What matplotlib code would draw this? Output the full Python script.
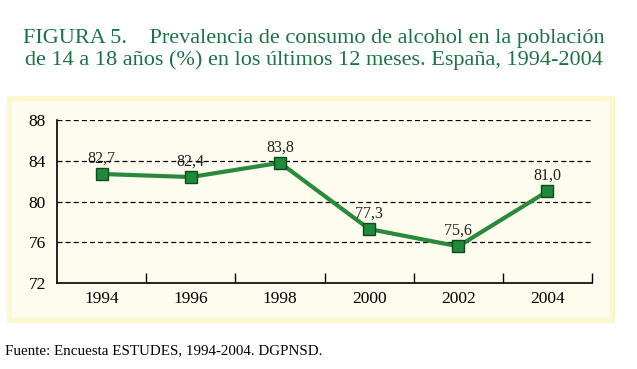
import matplotlib
matplotlib.use("Agg")
import matplotlib.pyplot as plt
from matplotlib.patches import Rectangle

years = ["1994", "1996", "1998", "2000", "2002", "2004"]
values = [82.7, 82.4, 83.8, 77.3, 75.6, 81.0]
labels = ["82,7", "82,4", "83,8", "77,3", "75,6", "81,0"]
yticks = [72, 76, 80, 84, 88]

W, H = 637, 369
fig = plt.figure(figsize=(W/100, H/100), dpi=100)
fig.patch.set_facecolor("white")
serif = ["Liberation Serif", "DejaVu Serif"]

# panel background
fig.patches.append(Rectangle((7/W, 1-323/H), (615-7)/W, (323-96)/H,
                             transform=fig.transFigure, facecolor="#fdf7cf",
                             edgecolor="none", zorder=-10))
fig.patches.append(Rectangle((12/W, 1-318/H), (610-12)/W, (318-101)/H,
                             transform=fig.transFigure, facecolor="#fefcee",
                             edgecolor="none", zorder=-9))

ax = fig.add_axes([57/W, 1-283/H, (592-57)/W, (283-120)/H])
ax.set_zorder(1)
ax.set_facecolor("none")
x = [i + 0.5 for i in range(len(years))]
ax.plot(x, values, color="#2a8a3c", lw=3, marker="s", ms=8.5,
        markerfacecolor="#1f8a3a", markeredgecolor="#0e4a1c", mew=1, zorder=3)
for xi, v, lab in zip(x, values, labels):
    ax.annotate(lab, (xi, v), xytext=(0, 5.5), textcoords="offset points",
                ha="center", va="bottom", fontsize=11.5, family=serif, color="#222222")
ax.set_xlim(0, 6)
ax.set_ylim(72, 88)
ax.set_yticks(yticks)
ax.set_yticklabels([str(t) for t in yticks], family=serif, fontsize=12.5)
ax.tick_params(axis="y", length=0, pad=8)
for t in yticks[1:]:
    ax.axhline(t, color="black", lw=0.9, ls=(0, (4, 2.5)), zorder=1)
ax.set_xticks(range(1, 7))
ax.set_xticklabels([])
ax.set_xticks(x, minor=True)
ax.set_xticklabels(years, minor=True, family=serif, fontsize=12.5)
ax.tick_params(axis="x", which="major", direction="in", length=7, width=1)
ax.tick_params(axis="x", which="minor", length=0, pad=6)
for s in ["top", "right"]:
    ax.spines[s].set_visible(False)
ax.spines["left"].set_linewidth(1.2)
ax.spines["bottom"].set_linewidth(1.2)

green = "#1b7345"
fig.text(314/W, 1-38/H, "FIGURA 5.    Prevalencia de consumo de alcohol en la población",
         ha="center", va="center", fontsize=16, family=serif, color=green)
fig.text(314/W, 1-60/H, "de 14 a 18 años (%) en los últimos 12 meses. España, 1994-2004",
         ha="center", va="center", fontsize=16, family=serif, color=green)
fig.text(5/W, 1-351/H, "Fuente: Encuesta ESTUDES, 1994-2004. DGPNSD.",
         ha="left", va="center", fontsize=10.8, family=serif, color="black")

fig.savefig("out.png", dpi=100)
